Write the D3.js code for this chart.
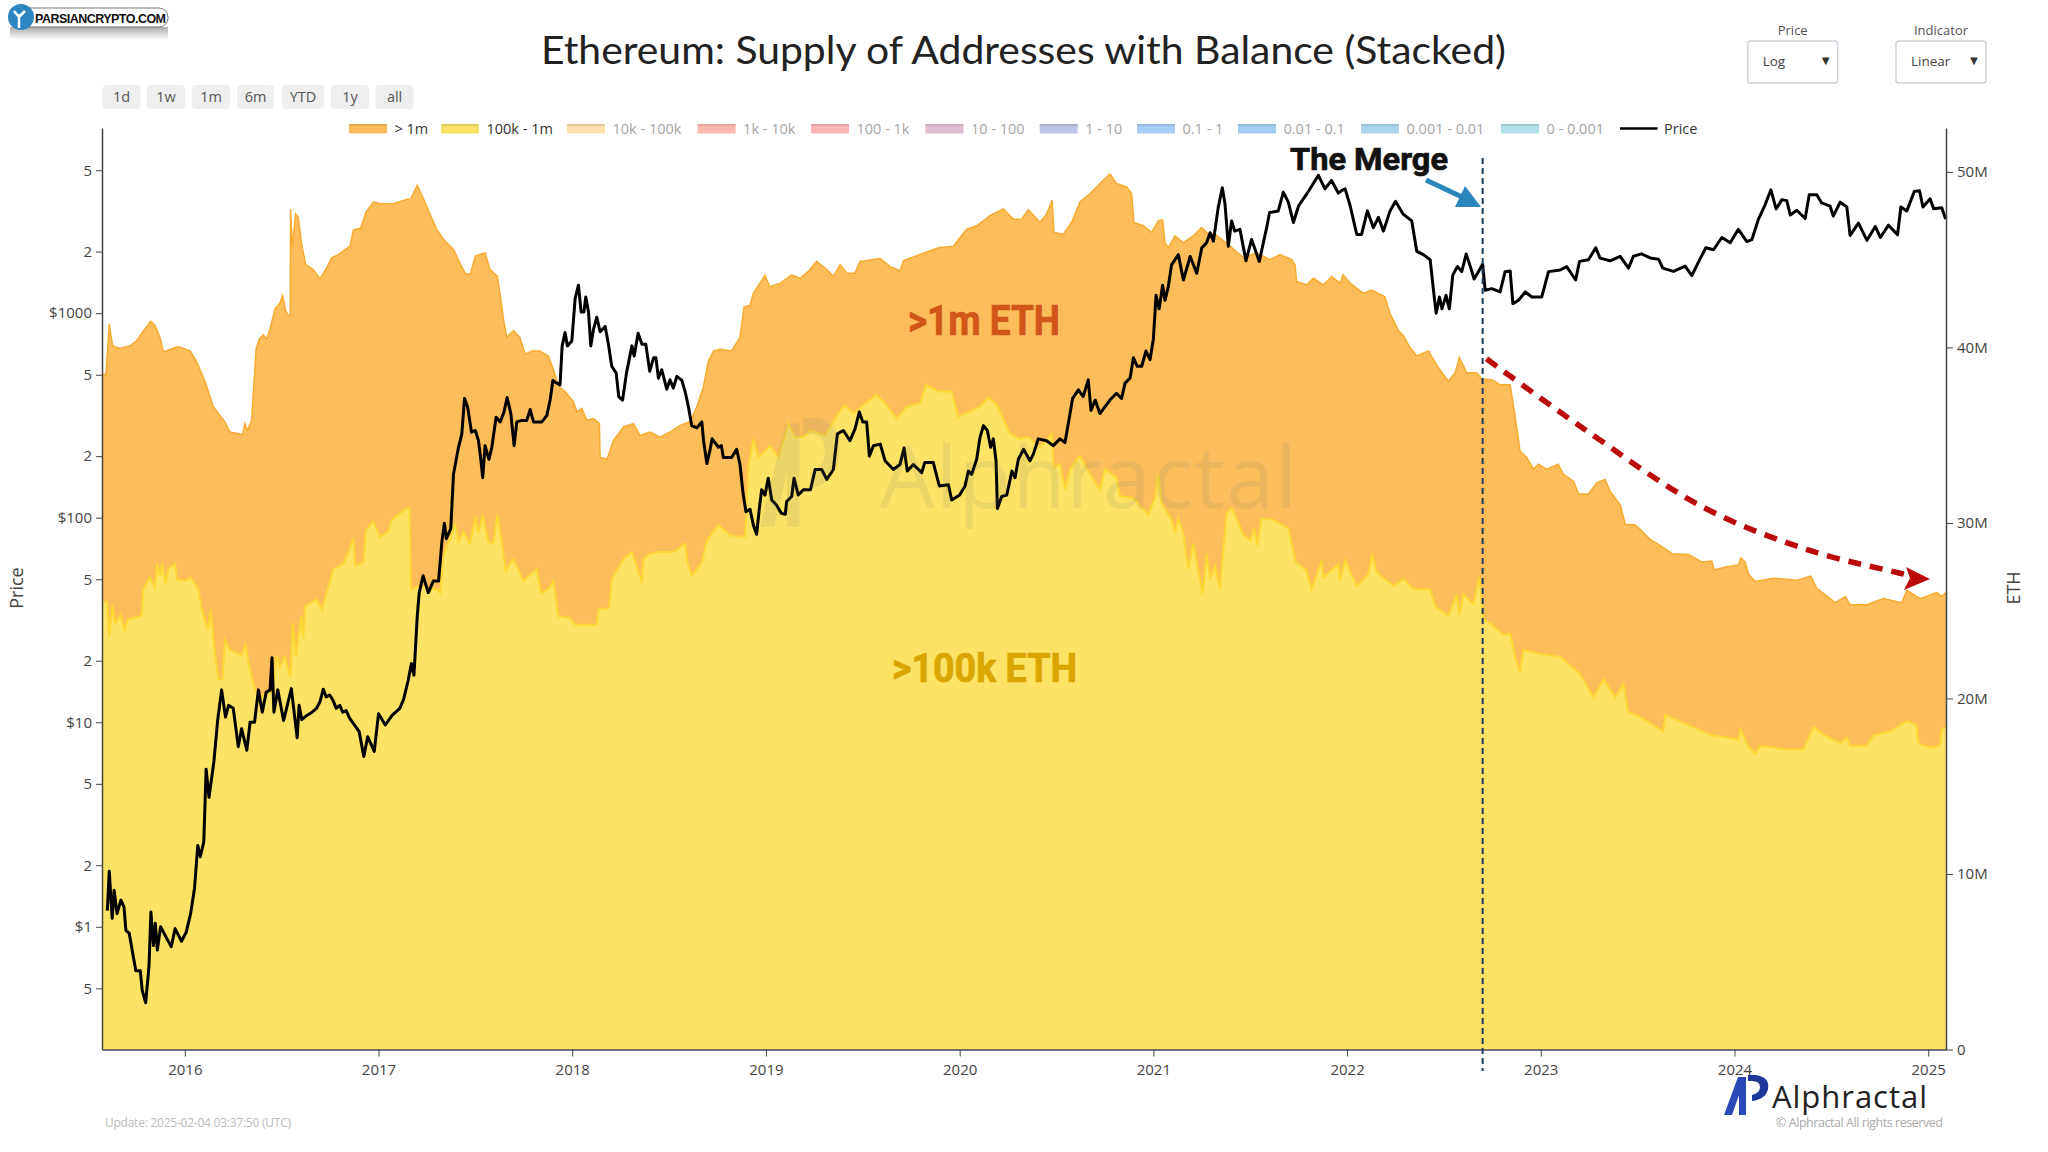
<!DOCTYPE html>
<html lang="en">

<head>
  <meta charset="UTF-8">
  <title>Ethereum: Supply of Addresses with Balance (Stacked)</title>
  <style>
    body { margin: 0; background: #fff; overflow: hidden; }
    svg { display: block; }
    text { font-family: "Open Sans", sans-serif; }
  </style>
  <script src="https://d3js.org/d3.v7.min.js"></script>
</head>

<body>
  <svg id="chart" width="2048" height="1152"></svg>
  <script>
    // all dates are decimal years, supply in millions of ETH, price in USD
    const topDates = [2015.573,2015.593,2015.61,2015.627,2015.665,2015.717,2015.75,2015.794,2015.824,2015.846,2015.872,2015.889,2015.966,2016.027,2016.06,2016.104,2016.147,2016.207,2016.233,2016.3,2016.31,2016.323,2016.345,2016.368,2016.385,2016.405,2016.423,2016.44,2016.466,2016.49,2016.505,2016.52,2016.536,2016.544,2016.546,2016.555,2016.572,2016.586,2016.603,2016.624,2016.663,2016.698,2016.732,2016.758,2016.793,2016.853,2016.87,2016.908,2016.935,2016.973,2017.008,2017.077,2017.154,2017.163,2017.2,2017.232,2017.266,2017.3,2017.335,2017.387,2017.42,2017.447,2017.473,2017.5,2017.55,2017.576,2017.614,2017.628,2017.645,2017.662,2017.697,2017.73,2017.757,2017.79,2017.834,2017.877,2017.903,2017.929,2017.963,2018.006,2018.024,2018.05,2018.075,2018.11,2018.14,2018.144,2018.18,2018.213,2018.265,2018.316,2018.35,2018.402,2018.454,2018.505,2018.557,2018.609,2018.643,2018.678,2018.703,2018.73,2018.763,2018.823,2018.866,2018.887,2018.918,2018.935,2018.995,2019.02,2019.073,2019.133,2019.176,2019.219,2019.262,2019.314,2019.348,2019.383,2019.417,2019.46,2019.486,2019.59,2019.64,2019.692,2019.71,2019.796,2019.89,2019.968,2020.036,2020.088,2020.157,2020.226,2020.278,2020.32,2020.355,2020.415,2020.449,2020.478,2020.487,2020.535,2020.578,2020.621,2020.673,2020.733,2020.776,2020.81,2020.862,2020.888,2020.9,2020.948,2020.991,2021.026,2021.048,2021.06,2021.077,2021.112,2021.155,2021.206,2021.25,2021.284,2021.318,2021.353,2021.396,2021.465,2021.533,2021.602,2021.654,2021.714,2021.731,2021.74,2021.79,2021.826,2021.878,2021.92,2021.964,2021.98,2022.016,2022.084,2022.127,2022.196,2022.222,2022.265,2022.291,2022.325,2022.36,2022.42,2022.472,2022.523,2022.558,2022.58,2022.618,2022.67,2022.695,2022.747,2022.79,2022.842,2022.868,2022.893,2022.928,2022.962,2022.988,2023.03,2023.09,2023.117,2023.169,2023.195,2023.246,2023.29,2023.332,2023.358,2023.41,2023.436,2023.487,2023.513,2023.565,2023.633,2023.677,2023.763,2023.83,2023.883,2023.895,2023.96,2024.02,2024.033,2024.055,2024.072,2024.107,2024.2,2024.322,2024.394,2024.425,2024.52,2024.572,2024.597,2024.684,2024.77,2024.864,2024.89,2024.959,2025.045,2025.07,2025.092];
    const topValues = [38.45,38.45,41.34,40.09,39.94,40.09,40.38,41.05,41.48,41.25,40.57,39.74,40.05,39.8,39.2,38.07,36.62,35.76,35.18,35.04,35.66,35.27,35.85,39.9,40.48,40.71,40.48,41.05,42.21,42.5,42.94,42.1,41.8,41.8,47.89,45.72,47.6,47.41,45.87,44.72,44.43,43.9,44.52,45.1,45.29,45.77,46.68,46.8,47.7,48.28,48.18,48.18,48.47,48.38,49.24,48.47,47.6,46.74,46.16,45.58,44.81,44.23,44.14,45.2,45.39,44.43,44.04,42.98,41.63,40.57,40.96,40.57,39.61,39.8,39.8,39.51,38.74,37.78,37.49,36.91,36.33,36.53,35.85,35.95,35.66,33.73,33.64,34.7,35.47,35.66,34.98,35.18,34.89,35.18,35.56,35.76,36.62,37.78,39.22,39.8,39.9,39.8,40.57,42.31,42.4,43.08,44.1,43.46,43.65,44.14,43.94,44.33,44.9,44.43,44.04,44.72,44.23,44.23,44.9,45.06,44.62,44.37,44.95,45.29,45.68,45.77,46.74,46.93,47.51,47.89,47.3,47.3,47.84,47.12,47.6,48.38,46.55,46.45,47.12,48.28,48.76,49.44,49.88,49.34,49.15,48.76,47.12,46.93,46.55,47.22,47.26,45.97,45.68,46.35,45.97,46.35,46.83,46.45,46.45,46.16,45.77,45.1,45.39,45.0,45.29,45.0,44.71,43.75,43.56,43.94,43.56,44.04,43.66,44.14,43.66,43.08,43.27,42.88,41.92,40.96,40.67,39.99,39.51,39.8,38.84,38.07,38.55,39.42,38.55,38.55,38.2,38.16,37.87,37.87,36.04,34.1,33.73,33.06,33.35,33.06,33.35,32.77,32.38,31.65,31.65,32.29,32.48,31.8,31.03,29.92,29.88,29.64,29.06,28.6,28.25,28.2,27.78,27.83,27.32,27.5,27.6,28.0,27.78,27.09,26.67,26.85,26.74,26.97,26.27,25.46,25.81,25.34,25.34,25.69,25.46,26.16,25.69,26.04,25.81,26.04];

    const yellowDates = [2015.573,2015.6,2015.61,2015.626,2015.64,2015.669,2015.69,2015.703,2015.777,2015.786,2015.82,2015.846,2015.858,2015.872,2015.884,2015.9,2015.915,2015.95,2015.958,2016.0,2016.03,2016.07,2016.087,2016.121,2016.133,2016.156,2016.173,2016.195,2016.207,2016.233,2016.293,2016.314,2016.33,2016.354,2016.38,2016.445,2016.457,2016.474,2016.49,2016.517,2016.534,2016.546,2016.557,2016.574,2016.6,2016.612,2016.62,2016.68,2016.71,2016.732,2016.767,2016.818,2016.844,2016.87,2016.879,2016.922,2016.935,2016.973,2017.008,2017.05,2017.068,2017.137,2017.16,2017.168,2017.206,2017.305,2017.318,2017.335,2017.37,2017.395,2017.413,2017.438,2017.473,2017.5,2017.516,2017.538,2017.567,2017.593,2017.614,2017.636,2017.657,2017.696,2017.748,2017.817,2017.838,2017.877,2017.903,2017.929,2017.989,2018.015,2018.075,2018.127,2018.135,2018.19,2018.204,2018.265,2018.308,2018.36,2018.368,2018.402,2018.445,2018.523,2018.583,2018.595,2018.617,2018.669,2018.695,2018.755,2018.815,2018.892,2018.909,2018.935,2018.96,2019.021,2019.064,2019.116,2019.15,2019.193,2019.228,2019.305,2019.374,2019.408,2019.451,2019.503,2019.572,2019.615,2019.675,2019.727,2019.796,2019.827,2019.89,2019.959,2019.993,2020.105,2020.148,2020.192,2020.26,2020.31,2020.355,2020.415,2020.475,2020.487,2020.518,2020.544,2020.57,2020.621,2020.673,2020.724,2020.75,2020.81,2020.828,2020.897,2020.974,2021.008,2021.026,2021.043,2021.094,2021.112,2021.129,2021.155,2021.18,2021.206,2021.255,2021.275,2021.293,2021.318,2021.344,2021.378,2021.404,2021.43,2021.465,2021.502,2021.52,2021.537,2021.559,2021.62,2021.697,2021.736,2021.79,2021.817,2021.869,2021.878,2021.955,2021.964,2021.99,2022.05,2022.11,2022.13,2022.153,2022.24,2022.291,2022.343,2022.429,2022.455,2022.523,2022.566,2022.58,2022.6,2022.652,2022.683,2022.704,2022.738,2022.807,2022.842,2022.868,2022.893,2022.91,2022.98,2023.1,2023.203,2023.272,2023.324,2023.384,2023.427,2023.45,2023.513,2023.633,2023.642,2023.883,2024.02,2024.03,2024.07,2024.107,2024.133,2024.27,2024.356,2024.408,2024.468,2024.546,2024.58,2024.597,2024.684,2024.718,2024.804,2024.89,2024.94,2024.95,2025.01,2025.06,2025.07,2025.092];
    const yellowValues = [25.54,25.45,23.52,25.35,24.29,24.77,23.81,24.48,24.71,26.22,26.89,26.31,27.66,26.99,27.66,26.51,27.37,27.66,26.79,26.7,26.89,26.22,25.06,23.91,25.06,22.56,21.11,21.11,23.33,22.75,22.46,23.04,21.98,20.82,20.05,20.4,20.82,22.46,21.79,22.37,21.6,21.2,24.29,22.37,24.68,23.42,25.25,25.64,25.06,26.02,27.37,27.66,28.34,29.11,27.57,27.76,29.59,30.07,29.2,29.5,30.17,30.75,30.84,26.2,26.41,26.2,26.0,28.15,29.11,29.98,28.92,29.5,28.82,30.36,29.4,30.46,28.92,28.82,30.46,28.92,27.28,27.95,26.7,27.37,26.02,26.22,26.7,24.68,24.58,24.2,24.2,24.2,25.06,25.16,26.8,27.95,28.34,26.6,27.95,28.24,28.34,28.34,28.82,27.76,26.99,27.76,29.01,29.88,29.3,29.2,33.15,34.79,33.73,34.41,33.73,35.66,34.89,34.89,35.27,34.98,36.24,36.72,36.24,36.72,37.3,36.82,35.95,36.62,36.82,37.87,37.49,37.49,36.04,36.62,37.16,36.72,35.08,34.79,34.89,34.31,35.08,33.15,33.35,31.9,33.06,33.83,32.77,31.9,33.06,32.58,31.52,31.42,30.46,31.42,32.77,31.13,30.17,29.4,30.26,29.4,27.37,28.82,25.93,28.24,26.8,27.57,26.22,30.55,30.84,30.26,29.3,29.01,29.69,28.72,30.26,30.17,29.69,27.76,27.28,26.22,27.86,26.89,27.66,26.7,27.86,26.41,27.08,28.24,27.18,26.41,26.8,26.22,26.22,25.25,24.68,25.93,24.77,25.93,25.35,26.89,24.49,24.29,23.62,23.71,22.36,21.5,22.75,22.57,22.37,21.4,20.05,21.11,20.05,20.82,19.24,18.95,18.13,19.06,17.9,17.67,18.25,17.3,16.85,17.3,17.09,17.09,18.37,17.9,17.44,17.78,17.3,17.3,17.9,18.13,18.71,18.48,17.44,17.2,17.3,18.25,18.37];

    const priceDates = [2015.6,2015.61,2015.625,2015.635,2015.65,2015.67,2015.686,2015.696,2015.713,2015.737,2015.747,2015.77,2015.78,2015.798,2015.815,2015.825,2015.838,2015.848,2015.858,2015.875,2015.906,2015.93,2015.95,2015.983,2016.007,2016.03,2016.05,2016.067,2016.08,2016.098,2016.11,2016.125,2016.15,2016.17,2016.19,2016.21,2016.226,2016.25,2016.276,2016.293,2016.32,2016.337,2016.36,2016.38,2016.4,2016.42,2016.44,2016.45,2016.46,2016.48,2016.51,2016.55,2016.58,2016.59,2016.604,2016.63,2016.657,2016.68,2016.698,2016.715,2016.73,2016.748,2016.765,2016.782,2016.8,2016.815,2016.833,2016.85,2016.866,2016.883,2016.9,2016.924,2016.944,2016.978,2017.0,2017.035,2017.07,2017.11,2017.13,2017.153,2017.17,2017.183,2017.2,2017.21,2017.23,2017.257,2017.283,2017.31,2017.327,2017.34,2017.35,2017.373,2017.387,2017.4,2017.413,2017.43,2017.444,2017.46,2017.48,2017.5,2017.516,2017.528,2017.538,2017.55,2017.57,2017.585,2017.607,2017.628,2017.648,2017.664,2017.683,2017.7,2017.714,2017.74,2017.765,2017.783,2017.8,2017.843,2017.869,2017.886,2017.9,2017.92,2017.937,2017.948,2017.963,2017.975,2017.998,2018.015,2018.032,2018.046,2018.06,2018.07,2018.084,2018.096,2018.11,2018.127,2018.144,2018.17,2018.187,2018.204,2018.227,2018.24,2018.26,2018.28,2018.308,2018.32,2018.34,2018.36,2018.38,2018.4,2018.42,2018.432,2018.445,2018.462,2018.488,2018.505,2018.522,2018.54,2018.566,2018.583,2018.6,2018.617,2018.643,2018.669,2018.678,2018.695,2018.712,2018.722,2018.755,2018.77,2018.78,2018.823,2018.849,2018.866,2018.883,2018.897,2018.918,2018.935,2018.952,2018.966,2018.978,2018.995,2019.012,2019.03,2019.055,2019.08,2019.1,2019.107,2019.133,2019.145,2019.167,2019.193,2019.23,2019.254,2019.288,2019.314,2019.348,2019.369,2019.4,2019.434,2019.46,2019.482,2019.5,2019.52,2019.534,2019.555,2019.59,2019.615,2019.658,2019.692,2019.713,2019.73,2019.761,2019.804,2019.82,2019.864,2019.895,2019.942,2019.959,2020.0,2020.028,2020.045,2020.062,2020.088,2020.105,2020.123,2020.143,2020.16,2020.174,2020.188,2020.195,2020.217,2020.243,2020.27,2020.286,2020.303,2020.33,2020.363,2020.38,2020.406,2020.449,2020.483,2020.518,2020.544,2020.57,2020.583,2020.613,2020.638,2020.664,2020.678,2020.7,2020.724,2020.776,2020.81,2020.836,2020.854,2020.88,2020.897,2020.917,2020.94,2020.962,2020.983,2021.0,2021.014,2021.03,2021.048,2021.06,2021.077,2021.094,2021.129,2021.155,2021.19,2021.224,2021.25,2021.275,2021.293,2021.31,2021.335,2021.356,2021.37,2021.387,2021.404,2021.42,2021.447,2021.478,2021.507,2021.547,2021.585,2021.6,2021.645,2021.671,2021.697,2021.723,2021.75,2021.792,2021.852,2021.886,2021.92,2021.955,2021.973,2021.99,2022.016,2022.05,2022.075,2022.105,2022.136,2022.162,2022.188,2022.222,2022.25,2022.29,2022.334,2022.36,2022.394,2022.429,2022.451,2022.46,2022.477,2022.49,2022.511,2022.528,2022.546,2022.57,2022.592,2022.615,2022.639,2022.656,2022.678,2022.7,2022.713,2022.747,2022.79,2022.816,2022.842,2022.856,2022.885,2022.92,2022.954,2023.005,2023.04,2023.1,2023.134,2023.18,2023.2,2023.246,2023.284,2023.306,2023.358,2023.41,2023.453,2023.478,2023.52,2023.565,2023.608,2023.63,2023.685,2023.745,2023.78,2023.814,2023.852,2023.892,2023.935,2023.978,2024.02,2024.064,2024.09,2024.124,2024.158,2024.188,2024.215,2024.245,2024.27,2024.288,2024.322,2024.365,2024.386,2024.425,2024.45,2024.494,2024.51,2024.546,2024.58,2024.597,2024.64,2024.684,2024.727,2024.753,2024.795,2024.842,2024.859,2024.89,2024.928,2024.955,2024.973,2025.01,2025.028,2025.07,2025.09];
    const priceValues = [1.2,1.87,1.1,1.51,1.16,1.35,1.25,0.96,0.93,0.69,0.61,0.61,0.49,0.425,0.64,1.18,0.81,1.04,0.77,1.0,0.88,0.8,0.98,0.85,0.94,1.16,1.54,2.5,2.2,2.6,5.9,4.3,6.4,10.3,14.4,10.6,12.1,11.7,7.6,9.3,7.3,10,10,14.4,11.2,14,14.4,20.7,11.2,14.4,10.2,14.6,8.4,12.1,10.3,10.8,11.2,11.7,12.6,14.5,13.3,13.6,12.8,11.7,12.1,11.2,11.4,10.5,10,9.5,9,6.8,8.5,7.2,11,9.7,10.8,11.7,13,16,19.4,17,33,43,52,43,49,49,76,94,79,88.5,163,190,221,257,383,348,262,267,238,193,157,225,193,221,310,294,329,387,323,225,294,299,299,338,294,294,316,376,469,455,446,692,805,692,731,1178,1370,1012,1012,1200,1012,692,835,955,811,861,704,550,509,391,376,509,692,617,798,704,704,520,605,605,481,529,425,472,430,491,469,413,348,282,275,294,238,184,216,243,221,225,197,197,216,182,129,107,110,92,83,111,137,129,156,122,115,105,104,120,127,156,129,137,137,172,172,154,172,257,267,238,272,329,294,294,200,225,229,190,172,182,219,169,182,166,186,186,143,145,122,129,143,169,163,193,247,282,267,221,243,190,111,127,129,169,157,193,216,190,204,243,238,225,243,233,323,383,422,391,472,335,376,323,376,406,383,455,482,605,550,550,653,593,746,1222,1050,1370,1156,1346,1722,1932,1452,1892,1566,2085,2208,2472,2249,3289,4102,3420,2123,2825,2518,2570,1803,2291,1791,2618,3105,3162,3908,3480,2773,3350,3828,4721,4055,4456,3864,3981,4050,3350,2427,2427,3162,2618,2938,2518,3162,3524,3048,2825,2004,1932,1824,1178,1000,1200,1050,1222,1050,1538,1690,1596,1945,1660,1469,1596,1734,1294,1318,1270,1596,1607,1112,1156,1270,1200,1200,1596,1626,1690,1452,1791,1824,2085,1858,1803,1897,1660,1897,1950,1862,1837,1660,1600,1698,1528,1778,2089,2042,2344,2208,2570,2239,2291,2884,3388,4009,3236,3589,3549,3020,3184,2904,3793,3793,3459,3334,2985,3491,3304,2399,2754,2270,2655,2344,2692,2421,3304,3162,3936,3972,3304,3622,3236,3273,2884];

    const yearTicks = [2016, 2017, 2018, 2019, 2020, 2021, 2022, 2023, 2024, 2025];
    const priceTicks = [0.5, 1, 2, 5, 10, 20, 50, 100, 200, 500, 1000, 2000, 5000];
    const priceTickLabels = ["5", "$1", "2", "5", "$10", "2", "5", "$100", "2", "5", "$1000", "2", "5"];
    const ethTicks = [0, 10, 20, 30, 40, 50];

    const rangeButtons = ["1d", "1w", "1m", "6m", "YTD", "1y", "all"];
    const legendNames = ["> 1m", "100k - 1m", "10k - 100k", "1k - 10k", "100 - 1k", "10 - 100", "1 - 10", "0.1 - 1", "0.01 - 0.1", "0.001 - 0.01", "0 - 0.001"];
    const legendColors = ["#fcbd5a", "#fce265", "#fde0ae", "#f9b9b0", "#f9b5b8", "#e0bcd0", "#bfc4e6", "#a6cff5", "#a3cdf0", "#a9d5ee", "#b3e0e8"];

    const mergeDate = 2022.7;
    const trendDates = [2022.72, 2023.198, 2023.838, 2024.38, 2024.85, 2024.97];
    const trendValues = [39.35, 35.55, 30.9, 28.46, 27.15, 26.85];

    const margin = { left: 102, right: 1946, top: 128, bottom: 1049.5 };
    const svg = d3.select("#chart");

    const x = d3.scaleLinear().domain([2015.5725, 2025.092]).range([margin.left, margin.right]);
    const yEth = d3.scaleLinear().domain([0, 52.5]).range([margin.bottom, margin.top]);
    const yPrice = d3.scaleLog().domain([0.2513, 8040]).range([margin.bottom, margin.top]);

    const pairs = (a, b) => a.map((d, i) => [d, b[i]]);

    svg.append("defs").append("clipPath").attr("id", "plot")
      .append("rect").attr("x", margin.left).attr("y", margin.top)
      .attr("width", margin.right - margin.left).attr("height", margin.bottom - margin.top);

    const area = d3.area().x(d => x(d[0])).y0(yEth(0)).y1(d => yEth(d[1]));
    const edge = d3.line().x(d => x(d[0])).y(d => yEth(d[1]));

    const plot = svg.append("g").attr("clip-path", "url(#plot)");
    const topData = pairs(topDates, topValues);
    const yellowData = pairs(yellowDates, yellowValues);

    plot.append("path").attr("d", area(topData)).attr("fill", "#fcbd5a");
    plot.append("path").attr("d", edge(topData)).attr("fill", "none").attr("stroke", "#f8ab30").attr("stroke-width", 1.5);
    plot.append("path").attr("d", area(yellowData)).attr("fill", "#fce265");
    plot.append("path").attr("d", edge(yellowData)).attr("fill", "none").attr("stroke", "#fdd835").attr("stroke-width", 2);

    // watermark
    const logoA = "M0,40 L14,2 L22,2 L22,40 L15,40 L15,20 L8,40 Z";
    const logoP = "M24,0 H32 Q46,2 44,14 Q42,24 28,26 L28,20 Q36,18 36,12 Q36,6 28,6 L24,6 Z";
    const mark = svg.append("g").attr("transform", "translate(760,418) scale(1.8,2.72)").attr("fill", "#7a7a7a").attr("opacity", 0.12);
    mark.append("path").attr("d", logoA);
    mark.append("path").attr("d", logoP);
    svg.append("text").attr("x", 880).attr("y", 508).attr("font-size", 86).attr("textLength", 417)
      .attr("fill", "#7a7a7a").attr("opacity", 0.12).text("Alphractal");

    // price line
    plot.append("path")
      .attr("d", d3.line().x(d => x(d[0])).y(d => yPrice(d[1]))(pairs(priceDates, priceValues)))
      .attr("fill", "none").attr("stroke", "#000").attr("stroke-width", 3).attr("stroke-linejoin", "round");

    // axes
    const xAxis = svg.append("g").attr("transform", `translate(0,${margin.bottom})`)
      .call(d3.axisBottom(x).tickValues(yearTicks).tickFormat(d3.format("d")).tickSize(7).tickSizeOuter(0).tickPadding(8));
    const leftAxis = svg.append("g").attr("transform", `translate(${margin.left},0)`)
      .call(d3.axisLeft(yPrice).tickValues(priceTicks).tickFormat((d, i) => priceTickLabels[i]).tickSize(6).tickSizeOuter(0).tickPadding(4));
    const rightAxis = svg.append("g").attr("transform", `translate(${margin.right},0)`)
      .call(d3.axisRight(yEth).tickValues(ethTicks).tickFormat(d => d === 0 ? "0" : d + "M").tickSize(7).tickSizeOuter(0).tickPadding(4));
    [xAxis, leftAxis, rightAxis].forEach(g => {
      g.selectAll("text").attr("font-size", 15).attr("fill", "#444").style("font-family", '"Open Sans", sans-serif');
      g.selectAll("line").attr("stroke", "#444");
      g.select(".domain").attr("stroke", "#444").attr("stroke-width", 1.5);
    });

    svg.append("text").attr("transform", "translate(23,588) rotate(-90)").attr("text-anchor", "middle")
      .attr("font-size", 18).attr("fill", "#444").text("Price");
    svg.append("text").attr("transform", "translate(2020,588) rotate(-90)").attr("text-anchor", "middle")
      .attr("font-size", 18).attr("fill", "#444").text("ETH");

    // title and notes
    svg.append("text").attr("x", 541).attr("y", 64).attr("font-size", 39).attr("font-weight", 400).attr("textLength", 965)
      .attr("lengthAdjust", "spacingAndGlyphs").style("font-family", "Lato, sans-serif").attr("fill", "#222")
      .text("Ethereum: Supply of Addresses with Balance (Stacked)");
    svg.append("text").attr("x", 105).attr("y", 1127).attr("font-size", 12).attr("fill", "#bbb")
      .attr("textLength", 186).text("Update: 2025-02-04 03:37:50 (UTC)");

    // range buttons
    const buttonX = [102.5, 147, 192, 237, 282, 331, 375.6];
    const buttonW = [38, 38, 38, 37, 42, 38, 38];
    rangeButtons.forEach((name, i) => {
      svg.append("rect").attr("x", buttonX[i]).attr("y", 85).attr("width", buttonW[i]).attr("height", 24)
        .attr("rx", 4).attr("fill", "#efefef");
      svg.append("text").attr("x", buttonX[i] + buttonW[i] / 2).attr("y", 102).attr("text-anchor", "middle")
        .attr("font-size", 14.5).attr("fill", "#555").text(name);
    });

    // legend
    const legendX = [349, 441, 567, 697.6, 811, 925.5, 1039.7, 1137, 1238, 1361, 1501];
    legendNames.forEach((name, i) => {
      svg.append("rect").attr("x", legendX[i]).attr("y", 124).attr("width", 38).attr("height", 9.5).attr("fill", legendColors[i]);
      svg.append("line").attr("x1", legendX[i]).attr("x2", legendX[i] + 38).attr("y1", 125).attr("y2", 125)
        .attr("stroke", d3.color(legendColors[i]).darker(0.4)).attr("stroke-width", 1.5);
      svg.append("text").attr("x", legendX[i] + 45.5).attr("y", 134).attr("font-size", 14.5)
        .attr("fill", i < 2 ? "#333" : "#a5a5a5").text(name);
    });
    svg.append("line").attr("x1", 1620).attr("x2", 1657.6).attr("y1", 128.5).attr("y2", 128.5).attr("stroke", "#000").attr("stroke-width", 2.5);
    svg.append("text").attr("x", 1664).attr("y", 134).attr("font-size", 14.5).attr("fill", "#333").text("Price");

    // dropdowns
    [["Price", "Log", 1747.7], ["Indicator", "Linear", 1896]].forEach(([label, value, bx]) => {
      svg.append("text").attr("x", bx + 45).attr("y", 35).attr("text-anchor", "middle").attr("font-size", 13).attr("fill", "#555").text(label);
      svg.append("rect").attr("x", bx).attr("y", 41).attr("width", 90).attr("height", 42).attr("rx", 3)
        .attr("fill", "#fff").attr("stroke", "#ccd2d8").attr("stroke-width", 1.5);
      svg.append("text").attr("x", bx + 15).attr("y", 66).attr("font-size", 13.5).attr("fill", "#444").text(value);
      svg.append("text").attr("x", bx + 78).attr("y", 65).attr("text-anchor", "middle").attr("font-size", 13).attr("fill", "#333").text("▼");
    });

    // annotations
    svg.append("line").attr("x1", x(mergeDate)).attr("x2", x(mergeDate)).attr("y1", 158).attr("y2", 1071)
      .attr("stroke", "#1c3a5e").attr("stroke-width", 2).attr("stroke-dasharray", "6,4");

    svg.append("path")
      .attr("d", d3.line().x(d => x(d[0])).y(d => yEth(d[1])).curve(d3.curveCatmullRom)(pairs(trendDates, trendValues)))
      .attr("fill", "none").attr("stroke", "#bb0a0a").attr("stroke-width", 5.5).attr("stroke-dasharray", "13,9");
    svg.append("path").attr("d", "M1930,579 L1906,567 L1910,578 L1904,590 Z").attr("fill", "#bb0a0a");

    svg.append("line").attr("x1", 1426).attr("y1", 180).attr("x2", 1462).attr("y2", 197)
      .attr("stroke", "#2a85bd").attr("stroke-width", 5);
    svg.append("path").attr("d", "M1481,207 L1465,186 L1455,207 Z").attr("fill", "#2a85bd");

    const note = (label, tx, ty, size, width, color) => svg.append("text")
      .attr("x", tx).attr("y", ty).attr("font-size", size).attr("font-weight", 700)
      .attr("textLength", width).attr("lengthAdjust", "spacingAndGlyphs")
      .attr("stroke", color).attr("stroke-width", 0.7)
      .style("font-family", "Roboto, sans-serif").attr("fill", color).text(label);
    note("The Merge", 1290, 170, 32, 158, "#111");
    note(">1m ETH", 908, 335, 42, 152, "#d2561a");
    note(">100k ETH", 892, 682, 40, 185, "#dba500");

    // corner logo bottom right
    const corner = svg.append("g").attr("transform", "translate(1724,1075)");
    corner.append("path").attr("d", logoA).attr("fill", "#2b48b8");
    corner.append("path").attr("d", logoP).attr("fill", "#1e3799");
    svg.append("text").attr("x", 1772).attr("y", 1108).attr("font-size", 31).attr("textLength", 155).attr("fill", "#222").text("Alphractal");
    svg.append("text").attr("x", 1776).attr("y", 1127).attr("font-size", 12.5).attr("textLength", 167).attr("fill", "#aaa").text("© Alphractal All rights reserved");

    // site badge top left
    const badgeShade = svg.select("defs").append("linearGradient").attr("id", "shade").attr("x1", 0).attr("x2", 0).attr("y1", 0).attr("y2", 1);
    badgeShade.append("stop").attr("offset", 0).attr("stop-color", "#888").attr("stop-opacity", 0.7);
    badgeShade.append("stop").attr("offset", 1).attr("stop-color", "#888").attr("stop-opacity", 0);
    svg.append("rect").attr("x", 10).attr("y", 27).attr("width", 158).attr("height", 13).attr("fill", "url(#shade)");
    svg.append("rect").attr("x", 10).attr("y", 8).attr("width", 158).attr("height", 19).attr("rx", 9)
      .attr("fill", "#fff").attr("stroke", "#777");
    svg.append("text").attr("x", 35).attr("y", 22.5).attr("font-size", 12.5).attr("font-weight", 700).attr("textLength", 131)
      .attr("fill", "#111").style("font-family", '"Liberation Sans", sans-serif').text("PARSIANCRYPTO.COM");
    svg.append("circle").attr("cx", 21).attr("cy", 17).attr("r", 13).attr("fill", "#2e86c1");
    svg.append("path").attr("d", "M19,28 V14 M19,17 L14,11 M19,17 L25,11").attr("stroke", "#fff").attr("stroke-width", 2.5).attr("fill", "none");
  </script>
</body>

</html>
